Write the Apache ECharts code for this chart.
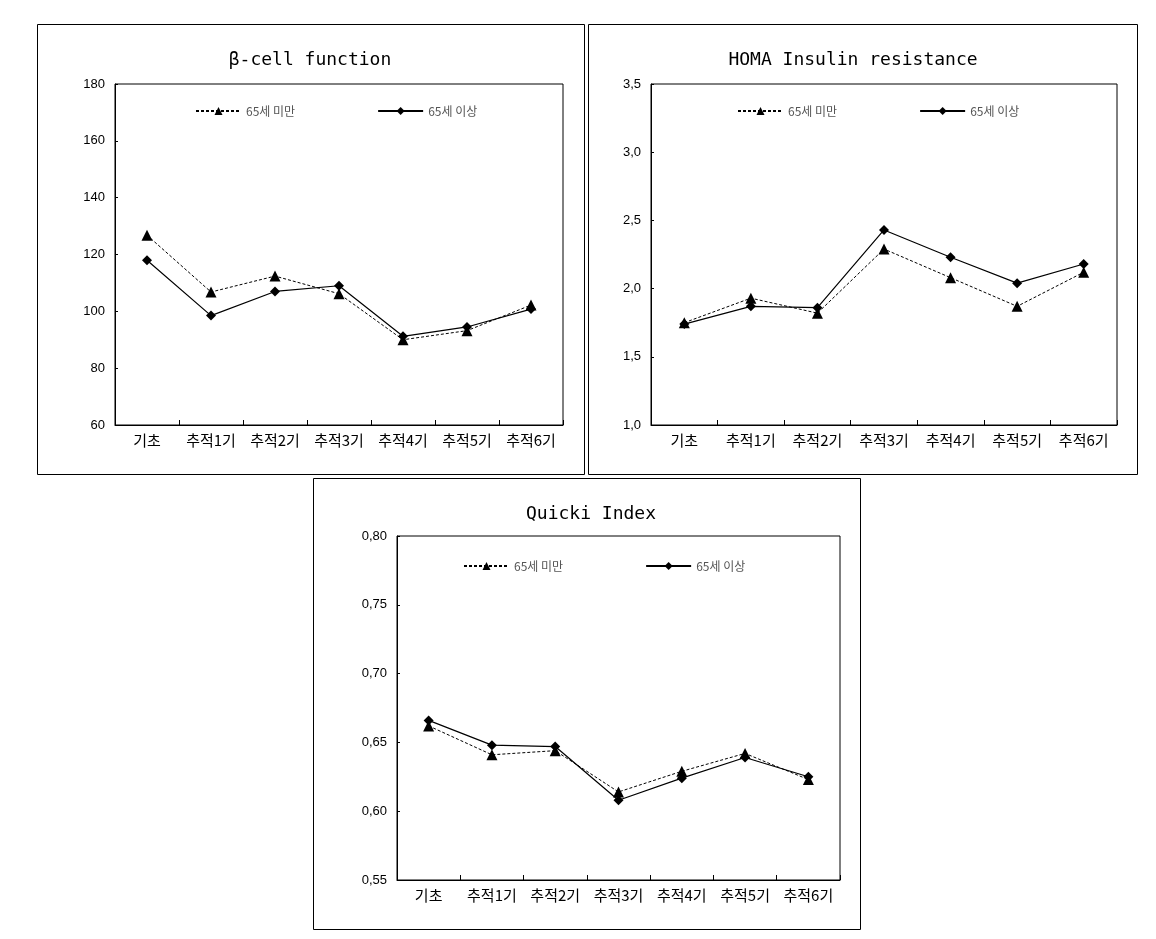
<!DOCTYPE html>
<html><head><meta charset="utf-8">
<script src="https://cdn.jsdelivr.net/npm/echarts@6/dist/echarts.min.js"></script>
<style>html,body{margin:0;padding:0;background:#fff}#c{width:1156px;height:939px}</style>
</head><body><div id="c"></div>
<script>
const categories = ['기초','추적1기','추적2기','추적3기','추적4기','추적5기','추적6기'];
const seriesNames = ['65세 미만','65세 이상'];
const titles = ['β-cell function','HOMA Insulin resistance','Quicki Index'];
const betaUnder = [126.8, 106.8, 112.4, 106.2, 90.0, 93.2, 102.2];
const betaOver  = [118.0, 98.5, 107.0, 109.0, 91.2, 94.5, 100.8];
const homaUnder = [1.75, 1.93, 1.82, 2.29, 2.08, 1.87, 2.12];
const homaOver  = [1.74, 1.87, 1.86, 2.43, 2.23, 2.04, 2.18];
const quickiUnder = [0.662, 0.641, 0.644, 0.614, 0.629, 0.642, 0.623];
const quickiOver  = [0.666, 0.648, 0.647, 0.608, 0.624, 0.639, 0.625];
const yRanges = [[60,180,20],[1.0,3.5,0.5],[0.55,0.80,0.05]];
const yDecimals = [0,1,2];

const grids = [
  {left:115, top:84, width:448, height:341},
  {left:651, top:84, width:466, height:341},
  {left:397, top:536, width:443, height:344}
];
const panels = [[37,24,547,450],[588,24,549,450],[313,478,547,451]];
const titlePos = [[305,46],[848,46],[586,500]];
const legendPos = [[190,100],[732,100],[458,555]];
const dataSets = [[betaUnder,betaOver],[homaUnder,homaOver],[quickiUnder,quickiOver]];

const chart = echarts.init(document.getElementById('c'));
const option = {
  backgroundColor:'#fff',
  animation:false,
  title: titles.map((t,i)=>({text:t,left:titlePos[i][0],top:titlePos[i][1],textAlign:'center',
    textStyle:{fontFamily:'DejaVu Sans Mono',fontSize:18,fontWeight:'normal',color:'#000'}})),
  legend: legendPos.map((p,i)=>({left:p[0],top:p[1],data:seriesNames,itemWidth:45,itemHeight:10,itemGap:82,
    textStyle:{fontFamily:'Noto Sans CJK KR',fontSize:12,color:'#555'}})),
  grid: grids.map(g=>Object.assign({show:true,borderColor:'#000',borderWidth:1,containLabel:false},g)),
  xAxis: grids.map((g,i)=>({type:'category',gridIndex:i,data:categories,boundaryGap:true,
    axisLine:{lineStyle:{color:'#000',width:1}},
    axisTick:{show:true,inside:true,length:5,lineStyle:{color:'#000'}},
    axisLabel:{color:'#000',fontFamily:'Noto Sans CJK KR',fontSize:15,margin:8,interval:0}})),
  yAxis: grids.map((g,i)=>({type:'value',gridIndex:i,min:yRanges[i][0],max:yRanges[i][1],interval:yRanges[i][2],
    axisLine:{show:true,lineStyle:{color:'#000',width:1}},
    axisTick:{show:true,inside:true,length:3,lineStyle:{color:'#000'}},splitLine:{show:false},
    axisLabel:{color:'#000',fontFamily:'Liberation Sans',fontSize:13,margin:10,
      formatter:v=>v.toFixed(yDecimals[i]).replace('.',',')}})),
  graphic: panels.map(p=>({type:'rect',shape:{x:p[0]+0.5,y:p[1]+0.5,width:p[2],height:p[3]},
    style:{fill:'none',stroke:'#000',lineWidth:1},silent:true})),
  series: []
};
dataSets.forEach((ds,i)=>{
  option.series.push({name:seriesNames[0],type:'line',xAxisIndex:i,yAxisIndex:i,data:ds[0],
    symbol:'triangle',symbolSize:11,itemStyle:{color:'#000'},
    lineStyle:{color:'#000',width:1,type:[3,2]}});
  option.series.push({name:seriesNames[1],type:'line',xAxisIndex:i,yAxisIndex:i,data:ds[1],
    symbol:'diamond',symbolSize:10,itemStyle:{color:'#000'},
    lineStyle:{color:'#000',width:1.2,type:'solid'}});
});
chart.setOption(option);
</script></body></html>
